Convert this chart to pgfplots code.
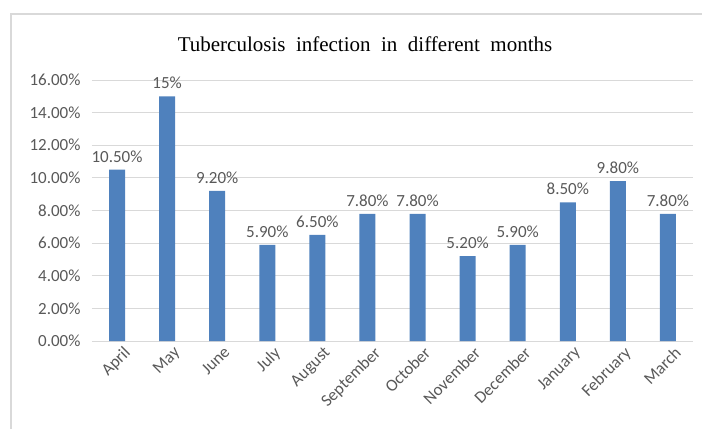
\documentclass[border=0pt]{standalone}
\usepackage{fontspec}
\setmainfont{Carlito}
\newfontfamily\titlefont{Liberation Serif}
\usepackage{pgfplots}
\pgfplotsset{compat=1.18}
\definecolor{barblue}{RGB}{79,129,189}
\definecolor{txtgray}{RGB}{89,89,89}
\definecolor{gridgray}{RGB}{217,217,217}
\definecolor{framegray}{RGB}{217,217,217}
\begin{document}
\begin{tikzpicture}[x=1bp,y=1bp]
\path[use as bounding box] (-92,-87) rectangle (610,341);
\draw[framegray, line width=1.2bp] (-81,-95) -- (-81,327) -- (620,327);
\node[font=\titlefont\fontsize{21bp}{24bp}\selectfont, text=black] at (273,297) {Tuberculosis\ \ infection\ \ in\ \ different\ \ months};
\begin{axis}[
  at={(0,0)}, anchor=south west,
  scale only axis, width=601bp, height=261bp,
  xmin=-0.5, xmax=11.5, ymin=0, ymax=16,
  ybar, bar width=16bp,
  axis line style={draw=none},
  tick style={draw=none},
  ymajorgrids, grid style={gridgray, line width=0.9bp},
  ytick={0,2,...,16},
  yticklabel={\pgfmathprintnumber[fixed,fixed zerofill,precision=2]{\tick}\%},
  /pgf/number format/assume math mode=true,
  y tick label style={font=\fontsize{17bp}{20bp}\selectfont, text=txtgray, xshift=-8bp},
  xtick=data,
  xticklabels={April,May,June,July,August,September,October,November,December,January,February,March},
  x tick label style={font=\fontsize{17bp}{20bp}\selectfont, text=txtgray, rotate=45, anchor=north east, inner sep=1bp, xshift=5bp, yshift=-3bp},
  point meta=explicit symbolic,
  nodes near coords,
  every node near coord/.append style={font=\fontsize{17bp}{20bp}\selectfont, text=txtgray, yshift=4bp},
]
\addplot[fill=barblue, draw=none] coordinates {
(0,10.5) [10.50\%]
(1,15.0) [15\%]
(2,9.2) [9.20\%]
(3,5.9) [5.90\%]
(4,6.5) [6.50\%]
(5,7.8) [7.80\%]
(6,7.8) [7.80\%]
(7,5.2) [5.20\%]
(8,5.9) [5.90\%]
(9,8.5) [8.50\%]
(10,9.8) [9.80\%]
(11,7.8) [7.80\%]
};
\end{axis}
\end{tikzpicture}
\end{document}
